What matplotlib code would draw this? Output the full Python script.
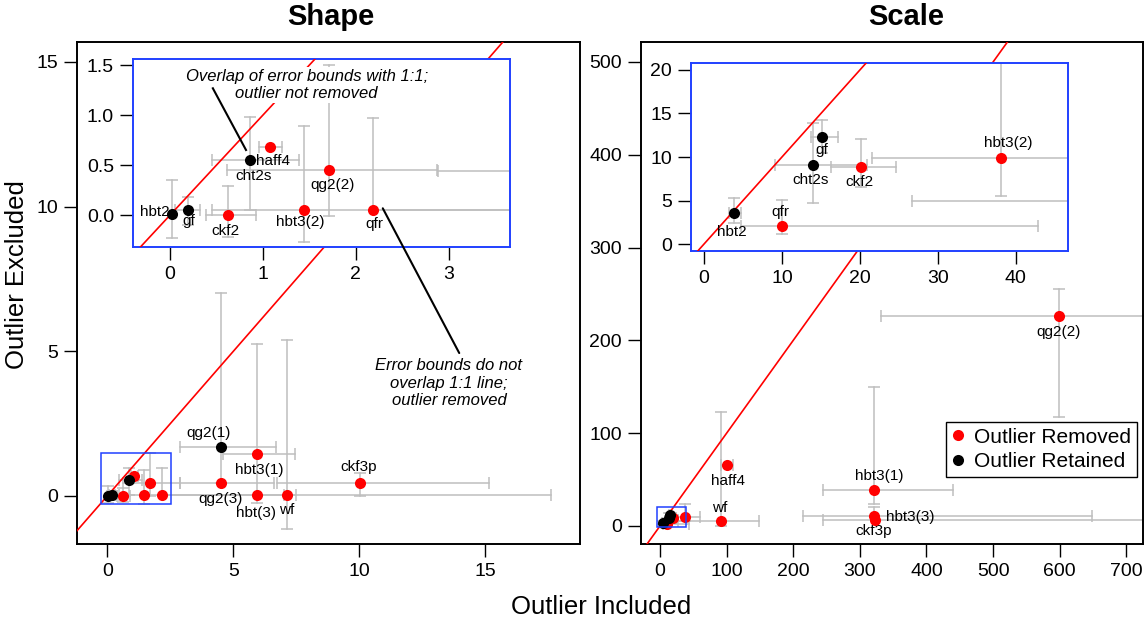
import numpy as np
import matplotlib
matplotlib.use("Agg")
import matplotlib.pyplot as plt
from matplotlib.lines import Line2D
from matplotlib.patches import Rectangle, ConnectionPatch

plt.rcParams['font.family'] = ['Liberation Sans', 'DejaVu Sans']

RED = "#ff0000"
GREY = "#bebebe"
BLUE = "#2040ff"
nan = np.nan

# ---- Shape panel: x = outlier included, y = outlier excluded, bounds per side ----
SH_NAMES = ["hbt2", "gf", "ckf2", "cht2s", "haff4", "qg2(2)", "hbt3(2)", "qfr",
            "qg2(1)", "hbt3(1)", "qg2(3)", "hbt(3)", "wf", "ckf3p"]
SH_X = [0.02, 0.19, 0.62, 0.86, 1.075, 1.71, 1.44, 2.18, 4.53, 5.92, 4.50, 5.92, 7.11, 10.02]
SH_Y = [0.01, 0.05, 0.00, 0.55, 0.68, 0.45, 0.05, 0.05, 1.70, 1.44, 0.44, 0.03, 0.03, 0.44]
SH_XLO = [nan, 0.05, 0.39, 0.45, 0.96, 0.61, 0.45, nan, 2.88, 4.60, 2.88, nan, nan, 6.75]
SH_XHI = [nan, 0.32, 0.92, 1.39, 1.20, 2.87, 7.00, 7.50, 6.71, 7.44, 6.60, nan, 17.6, 15.15]
SH_YLO = [-0.23, -0.10, -0.22, 0.05, nan, -0.01, -0.27, nan, 0.44, 0.03, nan, -0.25, -1.14, 0.00]
SH_YHI = [0.35, 0.18, 0.29, 0.98, nan, 1.50, 0.89, 0.97, 7.02, 5.26, nan, nan, 5.40, 0.79]
SH_REMOVED = [False, False, True, False, True, True, True, True,
              False, True, True, True, True, True]

# ---- Scale panel ----
SC_NAMES = ["hbt2", "qfr", "cht2s", "gf", "ckf2", "hbt3(2)", "haff4", "wf",
            "hbt3(1)", "ckf3p", "hbt3(3)", "qg2(2)"]
SC_X = [3.85, 9.97, 13.95, 15.1, 20.1, 38.1, 100, 92, 321, 322, 321, 598.5]
SC_Y = [3.53, 2.07, 9.08, 12.26, 8.8, 9.9, 66, 5, 38.5, 6, 10.5, 226]
SC_XLO = [3.2, 4.8, 9.1, 13.7, 16.3, 21.5, 92, 26.7, 244, 244, 215, 331]
SC_XHI = [4.8, 42.8, 20.9, 17.2, 24.6, 60, 109, 149, 440, 800, 649, 800]
SC_YLO = [2.45, 1.15, 4.68, 10.5, 6.5, 5.5, nan, 0, 24, nan, nan, 117.5]
SC_YHI = [5.3, 5.06, 13.9, 14.2, 12.1, 24, nan, 123, 150, nan, 20.5, 255]
SC_REMOVED = [False, True, False, False, True, True, True, True, True, True, True, True]

# label offsets (pixels) for the labelled points in each axes
SH_MAIN_LAB = {"qg2(1)": (-13, 14), "hbt3(1)": (3, -16), "qg2(3)": (0, -16),
               "hbt(3)": (-1, -18), "wf": (0, -15), "ckf3p": (-1, 16)}
SH_INSET_LAB = {"hbt2": (-17, 2), "gf": (1, -11), "ckf2": (-2, -16), "cht2s": (4, -16),
                "haff4": (3, -14), "qg2(2)": (4, -15), "hbt3(2)": (-4, -12), "qfr": (2, -14)}
SC_MAIN_LAB = {"qg2(2)": (0, -16), "haff4": (1, -16), "hbt3(1)": (5, 14),
               "hbt3(3)": (36, -1), "ckf3p": (-1, -11), "wf": (-2, 13)}
SC_INSET_LAB = {"hbt2": (-2, -19), "qfr": (-1, 14), "cht2s": (-2, -15), "gf": (0, -13),
                "ckf2": (-1, -15), "hbt3(2)": (7, 15)}


def draw_data(ax, names, x, y, xlo, xhi, ylo, yhi, removed, labels):
    cap = dict(color=GREY, markersize=8.6, markeredgewidth=1.1, linestyle="none", zorder=2)
    for i in range(len(x)):
        for b in (xlo[i], xhi[i]):
            if not np.isnan(b):
                ax.plot([x[i], b], [y[i], y[i]], color=GREY, lw=1.1, zorder=2)
                ax.plot([b], [y[i]], marker="|", **cap)
        for b in (ylo[i], yhi[i]):
            if not np.isnan(b):
                ax.plot([x[i], x[i]], [y[i], b], color=GREY, lw=1.1, zorder=2)
                ax.plot([x[i]], [b], marker="_", **cap)
    lim = 2000
    ax.plot([-lim, lim], [-lim, lim], color=RED, lw=1.2, zorder=3)
    rem = np.array(removed)
    xs, ys = np.array(x), np.array(y)
    ax.plot(xs[rem], ys[rem], "o", color=RED, ms=8, mec="none", zorder=5)
    ax.plot(xs[~rem], ys[~rem], "o", color="black", ms=8, mec="none", zorder=6)
    for n, (dx, dy) in labels.items():
        i = names.index(n)
        ax.annotate(n, (x[i], y[i]), xytext=(dx, dy), textcoords="offset pixels",
                    ha="center", va="center", fontsize=11, zorder=4)


def style(ax, color="black"):
    for s in ax.spines.values():
        s.set_color(color)
        s.set_linewidth(1.4)
    ax.tick_params(length=9.4, width=1.0, labelsize=14, pad=4.3, color="black")


W, H = 1146, 623
fig = plt.figure(figsize=(W / 100, H / 100), dpi=100)


def px_axes(l, t, r, b, **kw):
    return fig.add_axes([l / W, 1 - b / H, (r - l) / W, (b - t) / H], **kw)


# ---------------- Shape ----------------
ax1 = px_axes(77, 42, 580, 544)
draw_data(ax1, SH_NAMES, SH_X, SH_Y, SH_XLO, SH_XHI, SH_YLO, SH_YHI, SH_REMOVED, SH_MAIN_LAB)
ax1.set_xlim(-1.2, 18.75)
ax1.set_ylim(-1.66, 15.69)
ax1.set_xticks([0, 5, 10, 15])
ax1.set_yticks([0, 5, 10, 15])
style(ax1)
ax1.add_patch(Rectangle((-0.23, -0.28), 2.75, 1.76, fill=False, ec=BLUE, lw=1.1, zorder=7))
ax1.text(13.55, 3.90, "Error bounds do not\noverlap 1:1 line;\noutlier removed",
         ha="center", va="center", style="italic", fontsize=12, linespacing=1.2)

in1 = px_axes(133, 59, 510, 247, zorder=2)
in1.set_facecolor("white")
draw_data(in1, SH_NAMES, SH_X, SH_Y, SH_XLO, SH_XHI, SH_YLO, SH_YHI, SH_REMOVED, SH_INSET_LAB)
in1.set_xlim(-0.4, 3.66)
in1.set_ylim(-0.32, 1.56)
in1.set_xticks([0, 1, 2, 3])
in1.set_yticks([0, 0.5, 1.0, 1.5])
in1.set_yticklabels(["0.0", "0.5", "1.0", "1.5"])
style(in1, BLUE)
in1.text(1.47, 1.30, "Overlap of error bounds with 1:1;\noutlier not removed",
         ha="center", va="center", style="italic", fontsize=12, linespacing=1.2, zorder=8,
         bbox=dict(boxstyle="square,pad=0.1", fc="white", ec="none"))
in1.plot([0.46, 0.817], [1.267, 0.65], color="black", lw=1.5, zorder=9)
con = ConnectionPatch(xyA=(2.29, 0.067), coordsA=in1.transData,
                      xyB=(13.96, 4.94), coordsB=ax1.transData,
                      arrowstyle="-", color="black", lw=1.5, zorder=10)
fig.add_artist(con)

# ---------------- Scale ----------------
ax2 = px_axes(641, 42, 1143, 544)
draw_data(ax2, SC_NAMES, SC_X, SC_Y, SC_XLO, SC_XHI, SC_YLO, SC_YHI, SC_REMOVED, SC_MAIN_LAB)
ax2.set_xlim(-28.5, 725)
ax2.set_ylim(-19.4, 521.5)
ax2.set_xticks(range(0, 701, 100))
ax2.set_yticks(range(0, 501, 100))
style(ax2)
ax2.add_patch(Rectangle((-5, -0.8), 44, 21.1, fill=False, ec=BLUE, lw=1.1, zorder=7))
handles = [Line2D([], [], marker="o", color=RED, ls="none", ms=8, mec="none"),
           Line2D([], [], marker="o", color="black", ls="none", ms=8, mec="none")]
leg = ax2.legend(handles, ["Outlier Removed", "Outlier Retained"], loc="lower right",
                 bbox_to_anchor=(0.988, 0.133), borderaxespad=0, fontsize=15,
                 handlelength=0.6, handletextpad=0.45, borderpad=0.3, labelspacing=0.25,
                 fancybox=False, framealpha=1)
leg.get_frame().set_edgecolor("black")
leg.get_frame().set_linewidth(1.0)

in2 = px_axes(691, 63, 1068, 251, zorder=2)
in2.set_facecolor("white")
draw_data(in2, SC_NAMES, SC_X, SC_Y, SC_XLO, SC_XHI, SC_YLO, SC_YHI, SC_REMOVED, SC_INSET_LAB)
in2.set_xlim(-1.67, 46.7)
in2.set_ylim(-0.8, 20.8)
in2.set_xticks([0, 10, 20, 30, 40])
in2.set_yticks([0, 5, 10, 15, 20])
style(in2, BLUE)

# ---------------- figure texts ----------------
fig.text(331 / W, 1 - 25 / H, "Shape", ha="center", va="baseline", fontsize=21, fontweight="bold")
fig.text(906 / W, 1 - 25 / H, "Scale", ha="center", va="baseline", fontsize=21, fontweight="bold")
fig.text(601 / W, 1 - 607 / H, "Outlier Included", ha="center", va="center", fontsize=18.5)
fig.text(17.5 / W, 1 - 274.5 / H, "Outlier Excluded", ha="center", va="center",
         rotation=90, fontsize=18.5)

fig.savefig("out.png", dpi=100)
